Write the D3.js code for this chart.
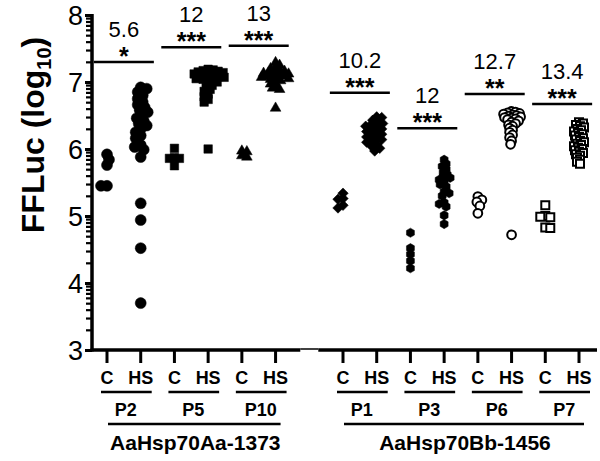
<!DOCTYPE html>
<html>
<head>
<meta charset="utf-8">
<script src="https://cdn.jsdelivr.net/npm/d3@7"></script>
<style>
  body { margin: 0; background: #fff; }
  text { font-family: Arial, "Liberation Sans", sans-serif; fill: #000; }
</style>
</head>
<body>
<script>
// promoters and cell lines
var promoters = ["AaHsp70Aa-1373", "AaHsp70Bb-1456"];
var cellLines = ["P2", "P5", "P10", "P1", "P3", "P6", "P7"];
var lineGroup = [0, 0, 0, 1, 1, 1, 1];
var conditions = ["C", "HS"];

// FFLuc, log10 units
var ctrlValues = [
  [5.92, 5.84, 5.76, 5.45, 5.45],
  [6.01, 5.87, 5.86, 5.86, 5.75],
  [5.97, 5.96, 5.90, 5.88],
  [5.34, 5.26, 5.25, 5.16, 5.12],
  [4.75, 4.52, 4.43, 4.33, 4.22],
  [5.29, 5.24, 5.21, 5.15, 5.04],
  [5.16, 5.00, 4.99, 4.98, 4.83, 4.82]
];
var hsValues = [
  [6.92, 6.90, 6.85, 6.80, 6.75, 6.70, 6.66, 6.62, 6.58, 6.55, 6.50, 6.46, 6.42, 6.38,
   6.35, 6.30, 6.25, 6.20, 6.16, 6.06, 6.03, 5.99, 5.88, 5.19, 4.94, 4.52, 3.70],
  [7.19, 7.18, 7.17, 7.16, 7.15, 7.14, 7.13, 7.12, 7.11, 7.10, 7.09, 7.08, 7.07, 7.06,
   7.05, 7.04, 7.02, 7.00, 6.98, 6.95, 6.92, 6.89, 6.86, 6.82, 6.78, 6.74, 6.70, 6.00],
  [7.29, 7.25, 7.22, 7.20, 7.18, 7.16, 7.15, 7.14, 7.13, 7.12, 7.11, 7.10, 7.09, 7.08,
   7.07, 7.06, 7.05, 7.04, 7.02, 7.00, 6.97, 6.94, 6.91, 6.89, 6.61],
  [6.48, 6.47, 6.43, 6.40, 6.38, 6.36, 6.34, 6.32, 6.30, 6.28, 6.26, 6.24, 6.22, 6.20,
   6.18, 6.16, 6.14, 6.12, 6.10, 6.07, 6.04, 6.01, 5.97],
  [5.84, 5.78, 5.74, 5.70, 5.65, 5.62, 5.58, 5.57, 5.54, 5.50, 5.47, 5.44, 5.36, 5.34,
   5.30, 5.20, 5.18, 5.14, 5.01, 4.88],
  [6.56, 6.55, 6.54, 6.53, 6.52, 6.51, 6.50, 6.49, 6.48, 6.47, 6.46, 6.45, 6.44, 6.42,
   6.40, 6.38, 6.36, 6.34, 6.31, 6.28, 6.25, 6.21, 6.17, 6.12, 6.07, 4.72],
  [6.40, 6.38, 6.36, 6.34, 6.32, 6.30, 6.28, 6.26, 6.24, 6.22, 6.20, 6.18, 6.16, 6.14,
   6.12, 6.10, 6.08, 6.06, 6.04, 6.02, 6.00, 5.98, 5.96, 5.94, 5.92, 5.90, 5.87, 5.84,
   5.81, 5.78]
];

// fold change and significance over each pair
var foldChange = ["5.6", "12", "13", "10.2", "12", "12.7", "13.4"];
var signif = ["*", "***", "***", "***", "***", "**", "***"];
var barLevel = [7.30, 7.52, 7.54, 6.84, 6.31, 6.82, 6.67];

var yTicks = [3, 4, 5, 6, 7, 8];

// marker look for each cell line
var hexagon = {
  draw: function(ctx, size) {
    var r = Math.sqrt(size / 2.6);
    for (var i = 0; i < 6; i++) {
      var a = Math.PI / 6 + i * Math.PI / 3;
      if (i == 0) ctx.moveTo(r * Math.cos(a), r * Math.sin(a));
      else ctx.lineTo(r * Math.cos(a), r * Math.sin(a));
    }
    ctx.closePath();
  }
};
var markers = [
  {type: d3.symbolCircle, size: 95, fill: true, d: 10},
  {type: d3.symbolSquare, size: 72, fill: true, d: 8},
  {type: d3.symbolTriangle, size: 50, fill: true, d: 8},
  {type: d3.symbolSquare, size: 55, fill: true, d: 9, rot: 45},
  {type: hexagon, size: 55, fill: true, d: 8},
  {type: d3.symbolCircle, size: 60, fill: false, d: 9},
  {type: d3.symbolSquare, size: 64, fill: false, d: 9}
];

var width = 600, height = 461;
var svg = d3.select("body").append("svg")
  .attr("width", width)
  .attr("height", height);

// slots along the x axis, with one empty slot between the promoters
var slots = [];
cellLines.forEach(function(p, i) {
  if (i > 0 && lineGroup[i] != lineGroup[i - 1]) slots.push("gap");
  conditions.forEach(function(c) { slots.push(p + "|" + c); });
});

var x = d3.scalePoint().domain(slots).range([107, 579]);
var y = d3.scaleLog().domain([1e3, 1e8]).range([350, 15]);

// y axis, major and minor ticks
var minor = [];
for (var k = 3; k < 8; k++) for (var m = 2; m < 10; m++) minor.push(m * Math.pow(10, k));

svg.append("g")
  .attr("transform", "translate(92,0)")
  .call(d3.axisLeft(y).tickValues(minor).tickSize(6).tickFormat(""))
  .call(function(g) { g.select(".domain").remove(); })
  .selectAll("line").attr("stroke-width", 2.2);

var yAxis = svg.append("g")
  .attr("transform", "translate(92,0)")
  .call(d3.axisLeft(y)
    .tickValues(yTicks.map(function(t) { return Math.pow(10, t); }))
    .tickSize(7).tickPadding(2)
    .tickFormat(function(d) { return Math.round(Math.log10(d)); }));
yAxis.select(".domain").remove();
yAxis.selectAll("line").attr("stroke-width", 3);
yAxis.selectAll("text")
  .style("font-size", "27px")
  .attr("dy", "0.36em");

svg.append("line")
  .attr("x1", 92).attr("x2", 92)
  .attr("y1", y(1e8) - 1).attr("y2", y(1e3) + 1.5)
  .attr("stroke", "#000").attr("stroke-width", 3.5);

// x axis with a break between the promoters
var gapX = x("gap");
svg.append("line")
  .attr("x1", 90.5).attr("x2", gapX - 9)
  .attr("y1", 350).attr("y2", 350)
  .attr("stroke", "#000").attr("stroke-width", 3.5);
svg.append("line")
  .attr("x1", gapX - 9).attr("x2", gapX + 9)
  .attr("y1", 349).attr("y2", 349)
  .attr("stroke", "#000").attr("stroke-width", 1.5);
svg.append("line")
  .attr("x1", gapX + 9).attr("x2", 597)
  .attr("y1", 350).attr("y2", 350)
  .attr("stroke", "#000").attr("stroke-width", 3.5);

var realSlots = slots.filter(function(s) { return s != "gap"; });
svg.selectAll(".xtick")
  .data(realSlots)
  .enter().append("line")
  .attr("class", "xtick")
  .attr("x1", function(d) { return x(d); })
  .attr("x2", function(d) { return x(d); })
  .attr("y1", 350).attr("y2", 363)
  .attr("stroke", "#000").attr("stroke-width", 3);

svg.selectAll(".xlab")
  .data(realSlots)
  .enter().append("text")
  .attr("class", "xlab")
  .attr("x", function(d) { return x(d); })
  .attr("y", 384)
  .attr("text-anchor", "middle")
  .style("font-size", "18px").style("font-weight", "bold")
  .text(function(d) { return d.split("|")[1]; });

// cell line labels
cellLines.forEach(function(p, i) {
  var xc = x(p + "|C"), xh = x(p + "|HS");
  svg.append("line")
    .attr("x1", xc - 6).attr("x2", xh + 11)
    .attr("y1", 392).attr("y2", 392)
    .attr("stroke", "#000").attr("stroke-width", 2.5);
  svg.append("text")
    .attr("x", (xc + xh) / 2 + 2).attr("y", 416)
    .attr("text-anchor", "middle")
    .style("font-size", "18px").style("font-weight", "bold")
    .text(p);
});

// promoter labels
promoters.forEach(function(name, gi) {
  var members = cellLines.filter(function(p, i) { return lineGroup[i] == gi; });
  var x0 = x(members[0] + "|C"), x1 = x(members[members.length - 1] + "|HS");
  svg.append("line")
    .attr("x1", x0 + 1).attr("x2", x1 + 5)
    .attr("y1", 424).attr("y2", 424)
    .attr("stroke", "#000").attr("stroke-width", 2.5);
  svg.append("text")
    .attr("x", (x0 + x1) / 2 + 4).attr("y", 450)
    .attr("text-anchor", "middle")
    .style("font-size", "21px").style("font-weight", "bold")
    .text(name);
});

// y axis title
var ylab = svg.append("text")
  .attr("transform", "translate(44,135) rotate(-90)")
  .attr("text-anchor", "middle")
  .style("font-size", "32px").style("font-weight", "bold");
ylab.append("tspan").text("FFLuc (log");
ylab.append("tspan").attr("dy", 7).style("font-size", "20px").text("10");
ylab.append("tspan").attr("dy", -7).text(")");

// spread overlapping points sideways
function dodge(vals, x0, minDist) {
  var placed = [];
  vals.slice().sort(d3.descending).forEach(function(v, n) {
    var py = y(Math.pow(10, v));
    var side = n % 2 ? 1 : -1;
    for (var k = 0; k < 80; k++) {
      var dx = k == 0 ? 0 : (k % 2 ? side : -side) * Math.ceil(k / 2);
      var ok = placed.every(function(q) {
        var ddx = x0 + dx - q.x, ddy = py - q.y;
        return ddx * ddx + ddy * ddy >= minDist * minDist;
      });
      if (ok) { placed.push({x: x0 + dx, y: py}); break; }
    }
  });
  return placed;
}

cellLines.forEach(function(p, i) {
  var mk = markers[i];
  var sym = d3.symbol().type(mk.type).size(mk.size);
  [ctrlValues[i], hsValues[i]].forEach(function(vals, ci) {
    var spread = mk.fill || ci == 0 ? 0.55 : 0.38;
    var pts = dodge(vals, x(p + "|" + conditions[ci]), mk.d * spread);
    svg.append("g").selectAll("path")
      .data(pts)
      .enter().append("path")
      .attr("d", sym)
      .attr("transform", function(d) {
        return "translate(" + d.x + "," + d.y + ")" + (mk.rot ? " rotate(" + mk.rot + ")" : "");
      })
      .attr("fill", mk.fill ? "#000" : "#fff")
      .attr("stroke", "#000")
      .attr("stroke-width", mk.fill ? 0.5 : 2);
  });

  // significance bar
  var xc = x(p + "|C"), xh = x(p + "|HS"), mid = (xc + xh) / 2;
  var ly = y(Math.pow(10, barLevel[i]));
  svg.append("line")
    .attr("x1", mid - 30).attr("x2", mid + 30)
    .attr("y1", ly).attr("y2", ly)
    .attr("stroke", "#000").attr("stroke-width", 2.5);
  svg.append("text")
    .attr("x", mid).attr("y", ly + 3)
    .attr("text-anchor", "middle")
    .style("font-size", "25px").style("font-weight", "bold")
    .text(signif[i]);
  svg.append("text")
    .attr("x", mid).attr("y", ly - 25)
    .attr("text-anchor", "middle")
    .style("font-size", "22px")
    .text(foldChange[i]);
});
</script>
</body>
</html>
